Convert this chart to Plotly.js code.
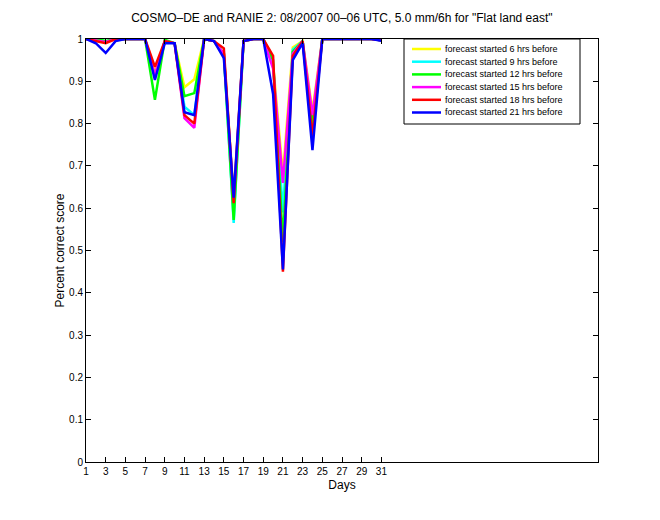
<!DOCTYPE html>
<html>
<head>
<meta charset="utf-8">
<script src="https://cdn.plot.ly/plotly-3.0.1.min.js"></script>
<style>html,body{margin:0;padding:0;background:#fff;}</style>
</head>
<body>
<div id="chart" style="width:660px;height:520px;"></div>
<script>
const days = [1,2,3,4,5,6,7,8,9,10,11,12,13,14,15,16,17,18,19,20,21,22,23,24,25,26,27,28,29,30,31];
const xTicks = [1,3,5,7,9,11,13,15,17,19,21,23,25,27,29,31];
const seriesNames = [
  "forecast started 6 hrs before",
  "forecast started 9 hrs before",
  "forecast started 12 hrs before",
  "forecast started 15 hrs before",
  "forecast started 18 hrs before",
  "forecast started 21 hrs before"
];
const seriesColors = ["#ffff00","#00ffff","#00ff00","#ff00ff","#ff0000","#0000ff"];
const fc6  = [1,1,0.995,1,1,1,1,0.92,0.995,0.99,0.886,0.905,1,0.995,0.965,0.63,0.995,1,1,0.94,0.68,0.98,0.995,0.83,1,1,1,1,1,1,0.997];
const fc9  = [1,1,0.995,1,1,1,1,0.91,0.995,0.99,0.84,0.82,1,0.995,0.965,0.565,0.995,1,1,0.94,0.59,0.975,0.995,0.80,1,1,1,1,1,1,0.997];
const fc12 = [1,1,0.995,1,1,1,1,0.856,0.998,0.99,0.865,0.872,1,0.995,0.965,0.572,0.995,1,1,0.95,0.52,0.97,0.995,0.795,1,1,1,1,1,1,0.997];
const fc15 = [1,0.997,0.993,1,1,1,1,0.915,0.995,0.99,0.813,0.79,1,0.995,0.965,0.62,0.995,1,1,0.93,0.66,0.965,0.995,0.82,1,1,1,1,1,1,0.997];
const fc18 = [1,0.995,0.99,1,1,1,1,0.934,0.995,0.99,0.82,0.80,1,0.995,0.978,0.612,0.995,1,1,0.96,0.45,0.96,0.995,0.77,1,1,1,1,1,1,0.997];
const fc21 = [1,0.99,0.967,0.995,1,1,1,0.903,0.99,0.99,0.827,0.82,1,0.995,0.955,0.625,0.995,1,1,0.87,0.455,0.95,0.99,0.737,1,1,1,1,1,1,0.996];
const seriesValues = [fc6, fc9, fc12, fc15, fc18, fc21];

const traces = seriesValues.map((vals, i) => ({
  x: days, y: vals, type: "scatter", mode: "lines",
  name: seriesNames[i],
  line: {color: seriesColors[i], width: 2.5}
}));

// plot area geometry (pixels) used to place a MATLAB-style legend box
const L = 86, R = 598, T = 39, B = 462;
const px2x = p => (p - L) / (R - L);
const px2y = p => (B - p) / (B - T);

const font = "Liberation Sans, Arial, Helvetica, sans-serif";
const shapes = [{
  type: "rect", xref: "paper", yref: "paper",
  x0: px2x(404), x1: px2x(580), y0: px2y(124), y1: px2y(39),
  line: {color: "#000", width: 1}, fillcolor: "#fff", layer: "above"
}];
const annotations = [];
seriesNames.forEach((nm, i) => {
  const yy = 49 + i * 12.7;
  shapes.push({type: "line", xref: "paper", yref: "paper",
    x0: px2x(412), x1: px2x(441), y0: px2y(yy), y1: px2y(yy),
    line: {color: seriesColors[i], width: 2.5}, layer: "above"});
  annotations.push({xref: "paper", yref: "paper", x: px2x(443), y: px2y(yy),
    xanchor: "left", yanchor: "middle", showarrow: false, text: nm,
    font: {family: font, size: 9, color: "#000"}});
});

const layout = {
  width: 660, height: 520,
  margin: {l: L, r: 660 - R, t: T, b: 520 - B, pad: 0},
  paper_bgcolor: "#ffffff", plot_bgcolor: "#ffffff",
  font: {family: font, size: 10, color: "#000"},
  title: {text: 'COSMO\u2013DE and RANIE 2: 08/2007 00\u201306 UTC, 5.0 mm/6h for "Flat land east"',
          font: {family: font, size: 12, color: "#000"}, x: 0.518, xanchor: "center", y: 0.965, yanchor: "middle"},
  xaxis: {
    range: [1, 53], tickvals: xTicks, ticktext: xTicks.map(String),
    ticks: "inside", ticklen: 5, tickcolor: "#000",
    showline: true, linecolor: "#000", linewidth: 1, mirror: "ticks",
    showgrid: false, zeroline: false,
    tickfont: {family: font, size: 10},
    title: {text: "Days", font: {family: font, size: 12}, standoff: 4}
  },
  yaxis: {
    range: [0, 1], tickvals: [0,0.1,0.2,0.3,0.4,0.5,0.6,0.7,0.8,0.9,1],
    ticktext: ["0","0.1","0.2","0.3","0.4","0.5","0.6","0.7","0.8","0.9","1"],
    ticks: "inside", ticklen: 5, tickcolor: "#000",
    showline: true, linecolor: "#000", linewidth: 1, mirror: "ticks",
    showgrid: false, zeroline: false,
    tickfont: {family: font, size: 10},
    title: {text: "Percent correct score", font: {family: font, size: 12}, standoff: 1}
  },
  showlegend: false,
  shapes: shapes,
  annotations: annotations
};

Plotly.newPlot("chart", traces, layout, {displayModeBar: false, staticPlot: true});
</script>
</body>
</html>
